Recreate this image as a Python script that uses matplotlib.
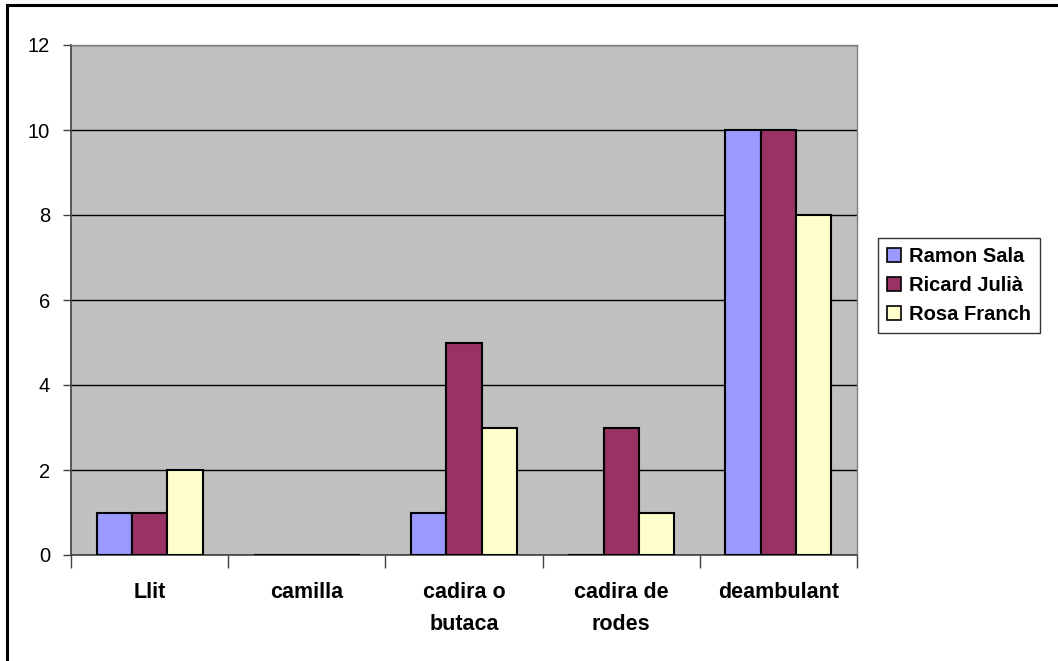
import numpy as np
import matplotlib.pyplot as plt
from matplotlib.lines import Line2D
import matplotlib.transforms as mtransforms

# Dades
categories = ['Llit', 'camilla', 'cadira o\nbutaca', 'cadira de\nrodes', 'deambulant']
ramon_sala = [1, 0, 1, 0, 10]
ricard_julia = [1, 0, 5, 3, 10]
rosa_franch = [2, 0, 3, 1, 8]
series_names = ['Ramon Sala', 'Ricard Julià', 'Rosa Franch']
colors = ['#9999FF', '#993366', '#FFFFCC']

plt.rcParams['font.family'] = ['Liberation Sans', 'DejaVu Sans']

W, H = 1058, 661
fig = plt.figure(figsize=(W / 100, H / 100), dpi=100)
ax = fig.add_axes([71 / W, 1 - 555 / H, (857 - 71) / W, (555 - 45) / H])
ax.set_facecolor('#C0C0C0')

x = np.arange(len(categories))
w = 0.225
for i, (vals, name, c) in enumerate(zip([ramon_sala, ricard_julia, rosa_franch], series_names, colors)):
    ax.bar(x + (i - 1) * w, vals, w, color=c, edgecolor='black', linewidth=1.5,
           label=name, zorder=3)

ax.set_xlim(-0.5, len(categories) - 0.5)
ax.set_ylim(0, 12)
ax.set_yticks(range(0, 13, 2))
ax.yaxis.grid(True, color='black', linewidth=1, zorder=1)
ax.tick_params(axis='y', labelsize=14.5, length=6, width=1, pad=9, color='#404040')

# Etiquetes de categoria: primera línia a 593 px, segona a 624 px
ax.set_xticks(np.arange(-0.5, len(categories)))
ax.set_xticklabels([])
ax.tick_params(axis='x', length=9, width=1, color='#404040')
trans = mtransforms.blended_transform_factory(ax.transData, fig.transFigure)
for xi, lab in zip(x, categories):
    for ln, yp in zip(lab.split('\n'), [593, 624]):
        ax.text(xi, 1 - yp / H, ln, transform=trans, ha='center', va='center',
                fontsize=15.5, fontweight='bold', clip_on=False)

for s in ['left', 'bottom']:
    ax.spines[s].set_color('#404040')
    ax.spines[s].set_linewidth(1.2)
for s in ['top', 'right']:
    ax.spines[s].set_color('#808080')
    ax.spines[s].set_linewidth(1)

leg = ax.legend(loc='upper left', bbox_to_anchor=(878 / W, 1 - 238 / H),
                bbox_transform=fig.transFigure, prop={'weight': 'bold', 'size': 14.5},
                frameon=True, fancybox=False, edgecolor='black', handlelength=0.7,
                handleheight=0.7, handletextpad=0.4, labelspacing=0.5,
                borderpad=0.45, borderaxespad=0)
leg.get_frame().set_linewidth(1)
for h in leg.legend_handles:
    h.set_linewidth(1.2)

# Marc exterior
fig.add_artist(Line2D([7 / W, 7 / W], [0, 1 - 5 / H], color='black', linewidth=2.2,
                      transform=fig.transFigure))
fig.add_artist(Line2D([7 / W, 1], [1 - 5 / H, 1 - 5 / H], color='black', linewidth=2.2,
                      transform=fig.transFigure))

fig.savefig('out.png', dpi=100)
